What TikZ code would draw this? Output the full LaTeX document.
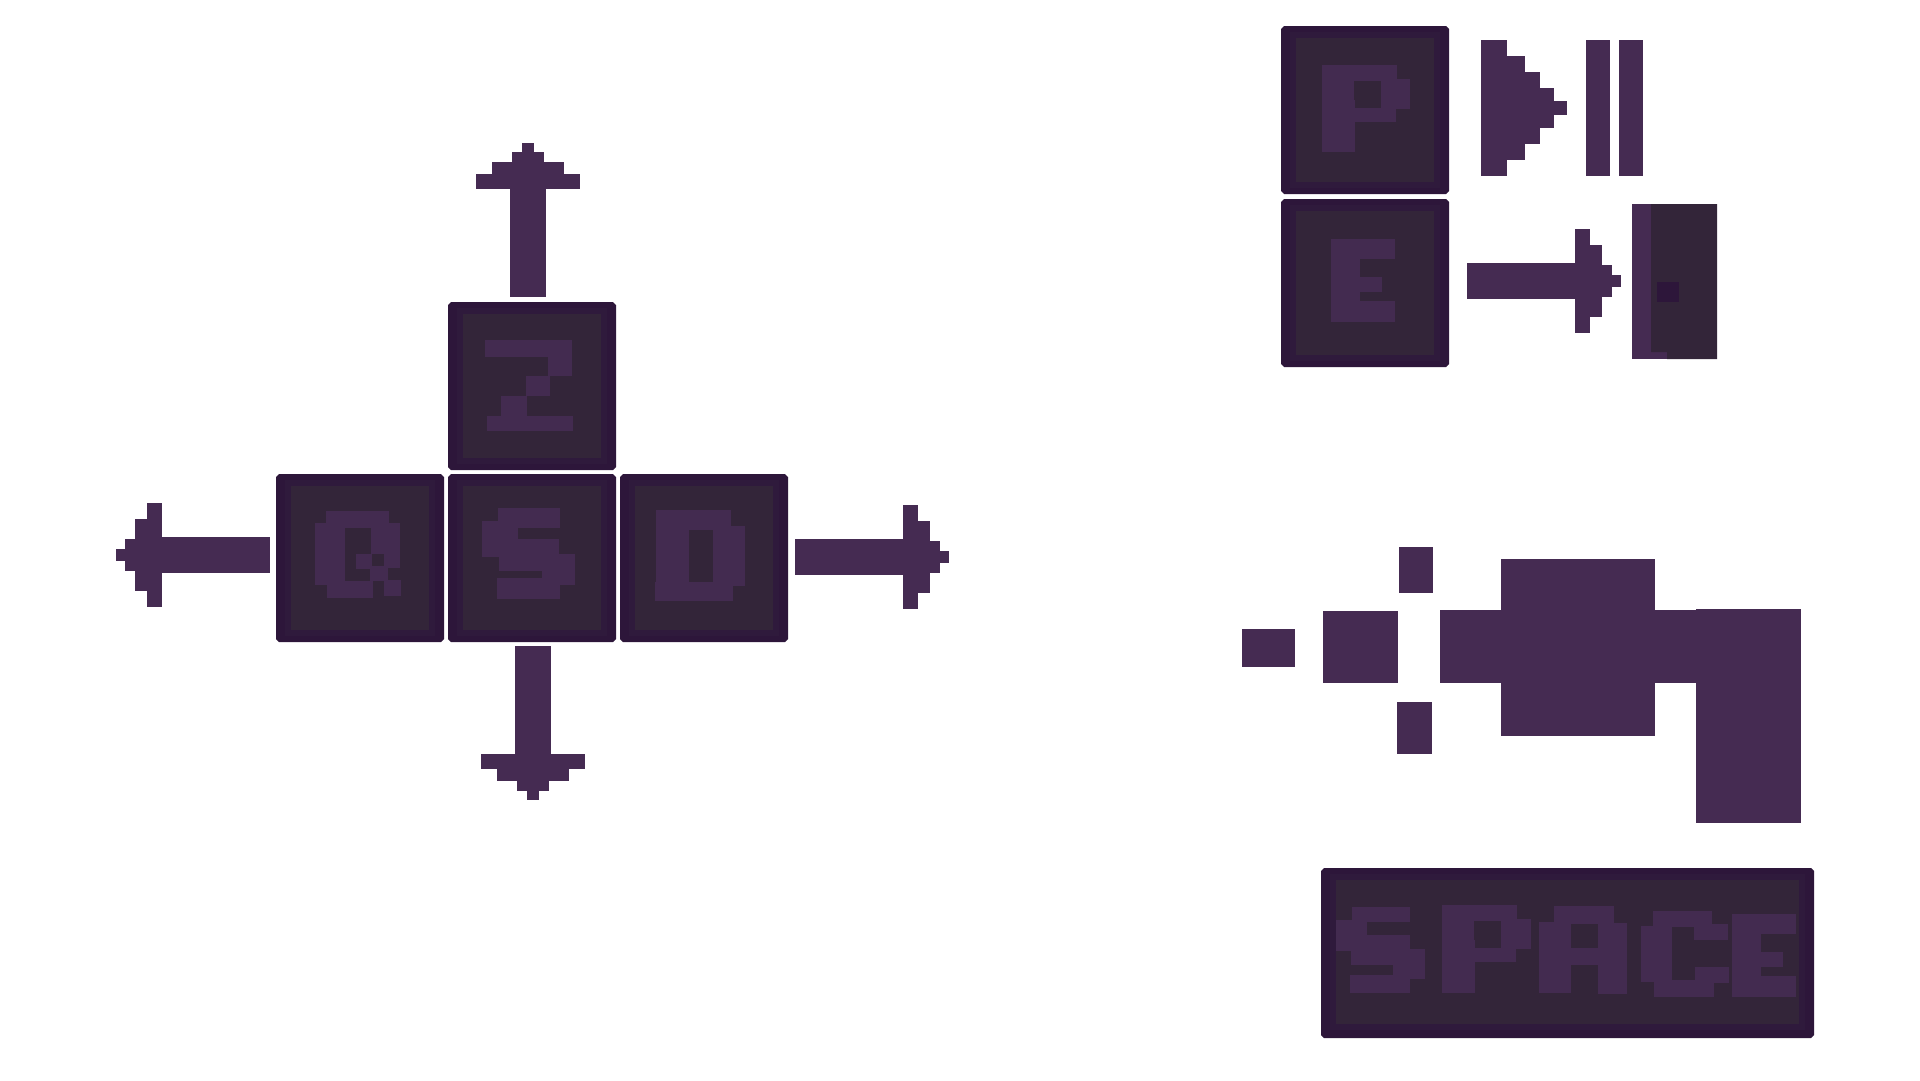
\documentclass[tikz,border=0pt]{standalone}
\definecolor{keyedge}{HTML}{2D163A}
\definecolor{keyring}{HTML}{2F1A3C}
\definecolor{keyface}{HTML}{332539}
\definecolor{inkpurple}{HTML}{452B52}
\definecolor{glyphpurple}{HTML}{432B50}
\tikzset{
  zm/.style 2 args={shift={(#1pt,-#2pt)},x=0.33333pt,y=-0.33333pt},
  ink/.style={fill=inkpurple,draw=none},
  glyph/.style={fill=glyphpurple,draw=none}
}
% x, y, w, h (pixels, y down), bottom margin of the face
\newcommand{\keycap}[5]{%
  \begin{scope}[shift={(#1pt,-#2pt)},x=1pt,y=-1pt]
    \fill[keyedge] (3,0) -- (#3-3,0) -- (#3,3) -- (#3,#4-3) -- (#3-3,#4) -- (3,#4) -- (0,#4-3) -- (0,3) -- cycle;
    \fill[keyring] (9,6) rectangle (#3-9,#4-#5+6);
    \fill[keyface] (15,12) rectangle (#3-15,#4-#5);
  \end{scope}}
\newcommand{\blocks}[2]{\foreach \xa/\ya/\xb/\yb in {#2} {\fill[#1] (\xa,\ya) rectangle (\xb,\yb);}}
\begin{document}
\begin{tikzpicture}
\useasboundingbox (0,0) rectangle (1920pt,-1080pt);
\fill[white] (0,0) rectangle (1920pt,-1080pt);
% key caps
\keycap{448}{302}{168}{168}{12}
\keycap{276}{474}{168}{168}{12}
\keycap{448}{474}{168}{168}{12}
\keycap{620}{474}{168}{168}{12}
\keycap{1281}{26}{168}{168}{12}
\keycap{1281}{199}{168}{168}{12}
\keycap{1321}{868}{493}{170}{14}
% Z
\begin{scope}[zm={430}{290}]
\blocks{glyph}{165/150/426/201,354/150/426/258,288/258/360/318,213/318/291/378,171/378/429/423}
\end{scope}
% Q
\begin{scope}[zm={260}{460}]
\blocks{glyph}{198/153/387/204,165/189/255/375,333/189/420/282,372/282/420/324,201/363/339/414,288/282/336/327,330/318/384/363,372/360/423/408}
\end{scope}
% S
\begin{scope}[zm={430}{460}]
\blocks{glyph}{204/144/390/204,156/183/264/291,156/237/387/282,207/237/336/333,336/282/435/375,201/354/390/417}
\end{scope}
% D
\begin{scope}[zm={610}{460}]
\blocks{glyph}{138/150/363/210,309/198/405/378,138/150/237/366,135/366/369/423}
\end{scope}
% P, play, pause
\begin{scope}[zm={1270}{15}]
\blocks{glyph}{156/150/381/198,156/150/252/255,156/255/255/411,333/192/420/282,255/279/378/321}
\blocks{ink}{633/75/711/483,711/123/765/435,765/171/810/387,810/219/852/339,852/258/891/300,948/75/1021/483,1047/75/1119/483}
\end{scope}
% E, arrow, door
\begin{scope}[zm={1270}{190}]
\blocks{glyph}{183/147/375/207,183/147/270/396,270/261/336/306,183/333/375/396}
\blocks{ink}{591/219/915/327,915/117/960/429,960/165/996/381,996/225/1026/321,1026/255/1053/291,1086/42/1341/507}
\fill[keyface] (1143,42) -- (1341,42) -- (1341,507) -- (1191,507) -- (1191,486) -- (1143,486) -- cycle;
\fill[keyedge] (1161,276) rectangle (1227,336);
\end{scope}
% SPACE
\begin{scope}[zm={1310}{860}]
\blocks{glyph}{126/141/300/186,78/180/171/273,123/225/300/315,249/267/345/357,120/345/300/399}
\blocks{glyph}{396/135/621/183,396/135/492/240,396/240/495/399,573/177/663/267,495/264/618/306}
\blocks{glyph}{732/138/912/192,687/186/783/399,864/189/951/402,783/264/864/315}
\blocks{glyph}{1029/153/1206/201,1152/192/1254/240,993/198/1086/366,1032/360/1212/411,1155/321/1257/369}
\blocks{glyph}{1266/162/1458/222,1266/162/1353/411,1353/276/1419/321,1266/348/1458/411}
\end{scope}
% burst and block
\begin{scope}[zm={1230}{530},x=0.38265pt]
\blocks{ink}{31/297/170/411,243/243/439/459,442/51/531/189,436/516/528/672,549/240/1218/459,708/87/1111/618,1218/237/1492/879}
\end{scope}
% left arrow
\begin{scope}[zm={100}{480}]
\blocks{ink}{186/171/510/279,141/69/186/381,105/117/141/333,75/177/105/273,48/207/75/243}
\end{scope}
% up arrow
\begin{scope}[zm={460}{130}]
\blocks{ink}{150/177/258/501,48/132/360/177,96/96/312/132,156/66/252/96,186/39/222/66}
\end{scope}
% down arrow
\begin{scope}[zm={470}{640}]
\blocks{ink}{135/18/243/342,33/342/345/387,81/387/297/423,141/423/237/453,171/453/207/480}
\end{scope}
% right arrow
\begin{scope}[zm={780}{490}]
\blocks{ink}{45/147/369/255,369/45/414/357,414/93/450/309,450/153/480/249,480/183/507/219}
\end{scope}
\end{tikzpicture}
\end{document}
